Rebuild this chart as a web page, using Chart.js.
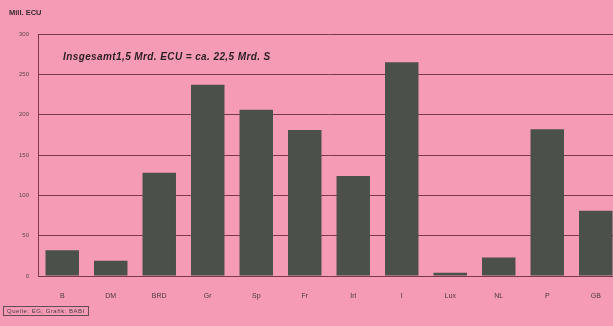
<!DOCTYPE html>
<html>
<head>
<meta charset="utf-8">
<script src="https://cdn.jsdelivr.net/npm/chart.js@4"></script>
<style>
  html, body { margin: 0; padding: 0; background: #f59bb5; overflow: hidden; }
  #wrap { position: relative; width: 620px; height: 326px; }
  #unit { position: absolute; left: 9px; top: 8px; font: bold 7.5px "Liberation Sans", Arial, sans-serif; color: #3a2a30; }
  #note { position: absolute; left: 63px; top: 51px; font: italic bold 10px "Liberation Sans", Arial, sans-serif; color: #2a1f24; letter-spacing: 0.4px; }
  #src { position: absolute; left: 3px; top: 306px; border: 1px solid #6a4a55; padding: 1px 3px; font: 6px "Liberation Sans", Arial, sans-serif; color: #4a3a40; letter-spacing: 0.5px; }
</style>
</head>
<body>
<div id="wrap">
  <canvas id="c" width="620" height="326"></canvas>
  <div id="unit">Mill. ECU</div>
  <div id="note">Insgesamt1,5 Mrd. ECU = ca. 22,5 Mrd. S</div>
  <div id="src">Quelle: EG; Grafik: BABI</div>
</div>
<script>
// data
const laender = ["B", "DM", "BRD", "Gr", "Sp", "Fr", "Irl", "I", "Lux", "NL", "P", "GB"];
const mittel = [32, 19, 128, 237, 206, 181, 124, 265, 4, 23, 182, 81];
const yTicks = [0, 50, 100, 150, 200, 250, 300];

const lineCol = "#7a3a4c";

new Chart(document.getElementById("c"), {
  type: "bar",
  data: {
    labels: laender,
    datasets: [{
      data: mittel,
      backgroundColor: "#4b504a",
      borderWidth: 0,
      barPercentage: 0.69,
      categoryPercentage: 1
    }]
  },
  options: {
    responsive: false,
    animation: false,
    plugins: { legend: { display: false }, tooltip: { enabled: false } },
    layout: { padding: { top: 34, left: 0, right: 0, bottom: 0 } },
    scales: {
      x: {
        grid: { display: false },
        border: { display: false },
        ticks: { color: "#4a3a40", font: { size: 7, family: "Liberation Sans" }, padding: 8, maxRotation: 0 },
        afterFit: function (s) { s.height = 50; }
      },
      y: {
        min: 0,
        max: 300,
        afterBuildTicks: function (s) { s.ticks = yTicks.map(v => ({ value: v })); },
        grid: { color: lineCol, lineWidth: 1, drawTicks: false },
        border: { display: true, color: lineCol, width: 1 },
        ticks: { color: "#5a4a50", font: { size: 6, family: "Liberation Sans" }, padding: 9 },
        afterFit: function (s) { s.width = 38; }
      }
    }
  }
});
</script>
</body>
</html>
